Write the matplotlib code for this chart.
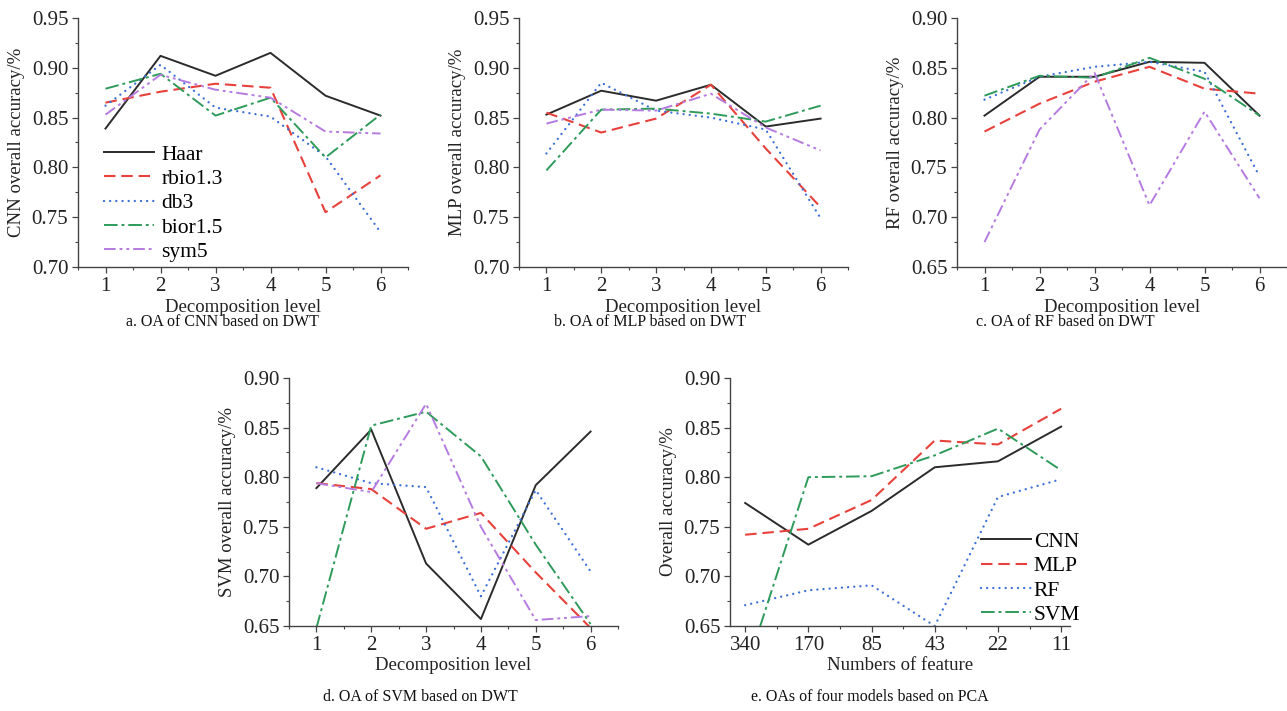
import numpy as np
import matplotlib
matplotlib.use('Agg')
import matplotlib.pyplot as plt
from matplotlib.ticker import MultipleLocator, FormatStrFormatter

plt.rcParams['font.family'] = ['Liberation Serif', 'DejaVu Serif']

# decomposition levels (DWT panels)
levels = [1, 2, 3, 4, 5, 6]
wavelets = ['Haar', 'rbio1.3', 'db3', 'bior1.5', 'sym5']

# a. CNN
cnn_haar = [0.839, 0.912, 0.892, 0.915, 0.872, 0.852]
cnn_rbio = [0.865, 0.876, 0.884, 0.880, 0.755, 0.792]
cnn_db3 = [0.862, 0.903, 0.860, 0.851, 0.811, 0.735]
cnn_bior = [0.879, 0.894, 0.852, 0.870, 0.810, 0.853]
cnn_sym5 = [0.853, 0.893, 0.878, 0.870, 0.836, 0.834]

# b. MLP
mlp_haar = [0.853, 0.877, 0.867, 0.883, 0.841, 0.849]
mlp_rbio = [0.855, 0.835, 0.849, 0.883, 0.819, 0.760]
mlp_db3 = [0.814, 0.885, 0.857, 0.850, 0.838, 0.749]
mlp_bior = [0.797, 0.858, 0.859, 0.854, 0.846, 0.862]
mlp_sym5 = [0.844, 0.858, 0.857, 0.874, 0.840, 0.817]

# c. RF
rf_haar = [0.802, 0.841, 0.841, 0.856, 0.855, 0.802]
rf_rbio = [0.786, 0.814, 0.836, 0.851, 0.829, 0.824]
rf_db3 = [0.818, 0.841, 0.851, 0.856, 0.846, 0.741]
rf_bior = [0.822, 0.842, 0.840, 0.860, 0.839, 0.802]
rf_sym5 = [0.675, 0.788, 0.845, 0.712, 0.806, 0.719]

# d. SVM
svm_haar = [0.789, 0.848, 0.713, 0.657, 0.792, 0.846]
svm_rbio = [0.794, 0.788, 0.748, 0.764, 0.704, 0.648]
svm_db3 = [0.810, 0.794, 0.790, 0.680, 0.787, 0.705]
svm_bior = [0.648, 0.852, 0.866, 0.821, 0.732, 0.652]
svm_sym5 = [0.794, 0.785, 0.874, 0.750, 0.656, 0.660]

# e. PCA
features = ['340', '170', '85', '43', '22', '11']
models = ['CNN', 'MLP', 'RF', 'SVM']
pca_cnn = [0.774, 0.732, 0.766, 0.810, 0.816, 0.851]
pca_mlp = [0.742, 0.748, 0.777, 0.837, 0.833, 0.869]
pca_rf = [0.671, 0.686, 0.691, 0.650, 0.780, 0.798]
pca_svm = [0.603, 0.800, 0.801, 0.822, 0.849, 0.807]

colors = ['#2b2b2b', '#e8413c', '#3b6fd6', '#2e9b5b', '#b57be0']
styles = ['-', (0, (5.5, 2.8)), (0, (0.01, 2.6)), (0, (7, 2, 1.5, 2)), (0, (6, 2, 1.5, 2, 1.5, 2))]
widths = [1.4, 1.5, 1.7, 1.4, 1.4]

W, H = 1287, 711
fig = plt.figure(figsize=(W / 100, H / 100), dpi=100)


def make_ax(left, right, top, bottom):
    return fig.add_axes([left / W, 1 - bottom / H, (right - left) / W, (bottom - top) / H])


def style_ax(ax, ylim, ylabel, xlabel):
    ax.set_ylim(*ylim)
    ax.yaxis.set_major_locator(MultipleLocator(0.05))
    ax.yaxis.set_minor_locator(MultipleLocator(0.025))
    ax.yaxis.set_major_formatter(FormatStrFormatter('%.2f'))
    ax.spines['top'].set_visible(False)
    ax.spines['right'].set_visible(False)
    for s in ['left', 'bottom']:
        ax.spines[s].set_color('#444444')
        ax.spines[s].set_linewidth(1.0)
    ax.tick_params(which='major', direction='out', length=4, width=0.9, colors='#444444',
                   labelsize=15, labelcolor='#222222', pad=3)
    ax.tick_params(which='minor', direction='out', length=2.5, width=0.8, colors='#444444')
    ax.set_ylabel(ylabel, fontsize=13.5, color='#222222', labelpad=5)
    ax.set_xlabel(xlabel, fontsize=13.5, color='#222222', labelpad=2)


def draw_lines(ax, xs, series, names):
    for vals, c, ls, lw, name in zip(series, colors, styles, widths, names):
        ax.plot(xs, vals, color=c, linestyle=ls, linewidth=lw, label=name,
                dash_capstyle='round' if name in ('db3', 'RF') else 'butt')


def dwt_panel(ax, series, ylim, ylabel):
    draw_lines(ax, levels, series, wavelets)
    ax.set_xlim(0.5, 6.5)
    ax.set_xticks(levels)
    ax.xaxis.set_minor_locator(MultipleLocator(0.5))
    style_ax(ax, ylim, ylabel, 'Decomposition level')


ax_a = make_ax(78, 408, 18, 267)
dwt_panel(ax_a, [cnn_haar, cnn_rbio, cnn_db3, cnn_bior, cnn_sym5], (0.70, 0.95), 'CNN overall accuracy/%')
ax_a.legend(loc='lower left', bbox_to_anchor=(0.08, 0.02), frameon=False, fontsize=15.5,
            handlelength=2.3, handletextpad=0.35, labelspacing=0.2, borderaxespad=0, borderpad=0)

ax_b = make_ax(519, 848, 18, 267)
dwt_panel(ax_b, [mlp_haar, mlp_rbio, mlp_db3, mlp_bior, mlp_sym5], (0.70, 0.95), 'MLP overall accuracy/%')

ax_c = make_ax(957, 1287, 18, 267)
dwt_panel(ax_c, [rf_haar, rf_rbio, rf_db3, rf_bior, rf_sym5], (0.65, 0.90), 'RF overall accuracy/%')

ax_d = make_ax(289, 618, 378, 626)
dwt_panel(ax_d, [svm_haar, svm_rbio, svm_db3, svm_bior, svm_sym5], (0.65, 0.90), 'SVM overall accuracy/%')

ax_e = make_ax(730, 1070, 378, 626)
x_e = np.arange(len(features))
draw_lines(ax_e, x_e, [pca_cnn, pca_mlp, pca_rf, pca_svm], models)
ax_e.set_xlim(-0.24, 5.14)
ax_e.set_xticks(x_e)
ax_e.set_xticklabels(features)
ax_e.xaxis.set_minor_locator(MultipleLocator(0.5))
style_ax(ax_e, (0.65, 0.90), 'Overall accuracy/%', 'Numbers of feature')
ax_e.legend(loc='lower right', bbox_to_anchor=(1.03, 0.004), frameon=False, fontsize=15.5,
            handlelength=2.3, handletextpad=0.15, labelspacing=0.2, borderaxespad=0, borderpad=0)

# captions
cap = dict(fontsize=11.5, ha='center', va='center', color='#111111')
fig.text(222 / W, 1 - 322 / H, 'a. OA of CNN based on DWT', **cap)
fig.text(650 / W, 1 - 322 / H, 'b. OA of MLP based on DWT', **cap)
fig.text(1065 / W, 1 - 322 / H, 'c. OA of RF based on DWT', **cap)
fig.text(420 / W, 1 - 697 / H, 'd. OA of SVM based on DWT', **cap)
fig.text(870 / W, 1 - 697 / H, 'e. OAs of four models based on PCA', **cap)

fig.savefig('out.png', dpi=100)
